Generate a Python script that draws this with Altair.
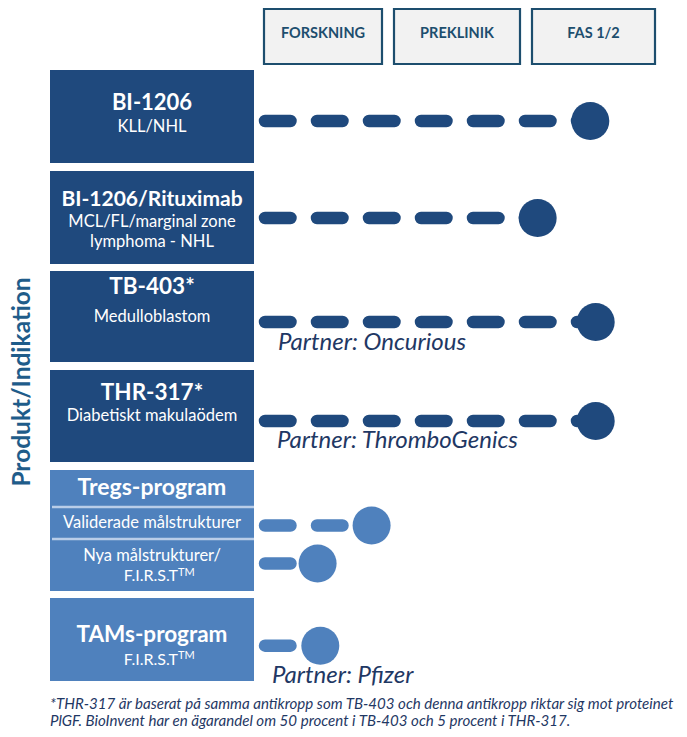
import altair as alt
import pandas as pd

# ---------------- data ----------------
phases = ["FORSKNING", "PREKLINIK", "FAS 1/2"]

products = ["BI-1206", "BI-1206/Rituximab", "TB-403*", "THR-317*", "Tregs-program", "TAMs-program"]
product_group = ["egen", "egen", "egen", "egen", "program", "program"]
indication_1 = ["KLL/NHL", "MCL/FL/marginal zone", "Medulloblastom", "Diabetiskt makulaödem", "", "F.I.R.S.T"]
indication_2 = ["", "lymphoma - NHL", "", "", "", ""]
tregs_sub = ["Validerade målstrukturer", "Nya målstrukturer/", "F.I.R.S.T"]

track_names = ["BI-1206", "BI-1206/Rituximab", "TB-403*", "THR-317*",
               "Validerade målstrukturer", "Nya målstrukturer", "TAMs-program"]
# end of the bar in phase units (1 = Forskning, 2 = Preklinik, 3 = Fas 1/2)
track_progress = [2.98, 2.59, 3.02, 3.02, 1.36, 0.96, 0.98]
track_group = ["egen", "egen", "egen", "egen", "program", "program", "program"]
track_partner = ["", "", "Oncurious", "ThromboGenics", "", "", "Pfizer"]

y_title = "Produkt/Indikation"
footnote = [
    "*THR-317 är baserat på samma antikropp som TB-403 och denna antikropp riktar sig mot proteinet",
    "PlGF. BioInvent har en ägarandel om 50 procent i TB-403 och 5 procent i THR-317.",
]

# ---------------- layout ----------------
W, H, M = 687, 737, 8
FONT = "Lato"
DARK = "#1F497D"
LIGHT = "#4F81BD"
HEAD_STROKE = "#1D4E6E"
TEXT_DARK = "#1F3864"

header_x0 = [264, 394, 532]
header_x1 = [382, 520, 655]
header_y0, header_y1 = 9, 64
header_text_y = 33.5

box_x0, box_x1 = 50, 254
box_y0 = [70, 171, 271, 370, 470, 598]
box_y1 = [163, 264, 362, 462, 591, 681]
title_y = [103, 200, 287, 393, 488, 634.5]
title_size = [22, 21, 22.5, 22.5, 23, 22.5]
ind1_y = [127, 222, 317, 416, 0, 659.5]
ind2_y = [0, 242, 0, 0, 0, 0]
ind_size = 16.5
tregs_sub_y = [523, 556, 576]
tregs_sub_size = 16.5
tregs_sep_y = [507, 539]

track_y = [121, 218, 322, 421, 525.5, 563.5, 645.7]
track_start = 265
phase_origin, phase_step = 323, 135
partner_x = [0, 0, 278, 277, 0, 0, 272]
partner_y = [0, 0, 350, 448, 0, 0, 683]

xs = alt.Scale(domain=[M, W - M], nice=False, zero=False)
ys = alt.Scale(domain=[M, H - M], nice=False, zero=False, reverse=True)
gcol = alt.Color("g:N", scale=alt.Scale(domain=["egen", "program"], range=[DARK, LIGHT]), legend=None)


def X(f):
    return alt.X(f"{f}:Q", scale=xs, axis=None)


def Y(f):
    return alt.Y(f"{f}:Q", scale=ys, axis=None)


# header boxes
hdf = pd.DataFrame({"label": phases, "x0": header_x0, "x1": header_x1,
                    "y0": header_y0, "y1": header_y1})
hdf["cx"] = (hdf.x0 + hdf.x1) / 2
hdf["cy"] = header_text_y
head_rect = alt.Chart(hdf).mark_rect(fill="#F2F2F2", stroke=HEAD_STROKE, strokeWidth=2.2).encode(
    x=X("x0"), x2="x1", y=Y("y0"), y2="y1")
head_text = alt.Chart(hdf).mark_text(font=FONT, fontWeight="bold", fontSize=14.5, color=HEAD_STROKE,
                                     align="center", baseline="middle").encode(
    x=X("cx"), y=Y("cy"), text="label:N")

# product boxes
bdf = pd.DataFrame({"p": products, "g": product_group, "x0": box_x0, "x1": box_x1,
                    "y0": box_y0, "y1": box_y1, "ty": title_y, "ts": title_size,
                    "i1": indication_1, "i1y": ind1_y, "i2": indication_2, "i2y": ind2_y})
bdf["cx"] = (bdf.x0 + bdf.x1) / 2
box_rect = alt.Chart(bdf).mark_rect().encode(x=X("x0"), x2="x1", y=Y("y0"), y2="y1", color=gcol)
box_title = alt.Chart(bdf).mark_text(font=FONT, fontWeight="bold", color="white",
                                     baseline="middle").encode(
    x=X("cx"), y=Y("ty"), text="p:N", size=alt.Size("ts:Q", scale=None, legend=None))
ind1 = bdf[(bdf.i1 != "") & (bdf.i1 != "F.I.R.S.T")]
box_ind1 = alt.Chart(ind1).mark_text(font=FONT, fontSize=ind_size, color="white", baseline="middle").encode(
    x=X("cx"), y=Y("i1y"), text="i1:N")
ind2 = bdf[bdf.i2 != ""]
box_ind2 = alt.Chart(ind2).mark_text(font=FONT, fontSize=ind_size, color="white", baseline="middle").encode(
    x=X("cx"), y=Y("i2y"), text="i2:N")

# tregs sub rows
sdf = pd.DataFrame({"t": tregs_sub, "y": tregs_sub_y})
sdf["cx"] = (box_x0 + box_x1) / 2
plain_sub = sdf[sdf.t != "F.I.R.S.T"]
sub_text = alt.Chart(plain_sub).mark_text(font=FONT, fontSize=tregs_sub_size, color="white",
                                          baseline="middle").encode(x=X("cx"), y=Y("y"), text="t:N")
sep_df = pd.DataFrame({"y": tregs_sep_y, "x0": box_x0 + 2, "x1": box_x1})
sep = alt.Chart(sep_df).mark_rule(color="#B9CDE8", strokeWidth=2.5).encode(x=X("x0"), x2="x1", y=Y("y"))

# F.I.R.S.T with TM superscript
fdf = pd.DataFrame({"t": ["F.I.R.S.T", "F.I.R.S.T"], "y": [tregs_sub_y[2], ind1_y[5]]})
fdf["x"] = 178
first_txt = alt.Chart(fdf).mark_text(font=FONT, fontSize=16, color="white", align="right",
                                     baseline="middle").encode(x=X("x"), y=Y("y"), text="t:N")
tm_txt = alt.Chart(fdf).mark_text(font=FONT, fontSize=11, color="white", align="left", dy=-3.5,
                                  baseline="middle").encode(x=X("x"), y=Y("y"), text=alt.value("TM"))

# tracks
tdf = pd.DataFrame({"name": track_names, "progress": track_progress, "g": track_group,
                    "y": track_y, "partner": track_partner, "px": partner_x, "py": partner_y})
tdf["start"] = track_start
track_base = alt.Chart(tdf).transform_calculate(
    end=f"{phase_origin} + (datum.progress - 1) * {phase_step}")
dashes = track_base.mark_rule(strokeWidth=12.5, strokeDash=[25.5, 26.5], strokeCap="round").encode(
    x=X("start"), x2="end:Q", y=Y("y"), color=gcol)
dots = track_base.mark_circle(size=1444, opacity=1).encode(x=X("end"), y=Y("y"), color=gcol)

pdf = tdf[tdf.partner != ""].copy()
pdf["label"] = "Partner: " + pdf.partner
partner_txt = alt.Chart(pdf).mark_text(font=FONT, fontStyle="italic", fontSize=24, color=TEXT_DARK,
                                       align="left", baseline="alphabetic").encode(
    x=X("px"), y=Y("py"), text="label:N")

# y title
ydf = pd.DataFrame({"t": [y_title], "x": [22.5], "y": [382]})
ytitle = alt.Chart(ydf).mark_text(font=FONT, fontWeight="bold", fontSize=24.5, color="#1F5C8A",
                                  angle=270, baseline="middle").encode(x=X("x"), y=Y("y"), text="t:N")

# footnote
ndf = pd.DataFrame({"t": footnote, "y": [708.5, 725.5], "x": [50, 50]})
note = alt.Chart(ndf).mark_text(font=FONT, fontStyle="italic", fontSize=15.1, color=TEXT_DARK,
                                align="left", baseline="alphabetic").encode(x=X("x"), y=Y("y"), text="t:N")

chart = alt.layer(
    head_rect, head_text, box_rect, sep, box_title, box_ind1, box_ind2, sub_text, first_txt, tm_txt,
    dashes, dots, partner_txt, ytitle, note
).properties(
    width=W - 2 * M, height=H - 2 * M, padding=0,
    autosize=alt.AutoSizeParams(type="none"),
).configure_view(stroke=None)

chart.save("out.html", embed_options={"renderer": "svg", "actions": False})
